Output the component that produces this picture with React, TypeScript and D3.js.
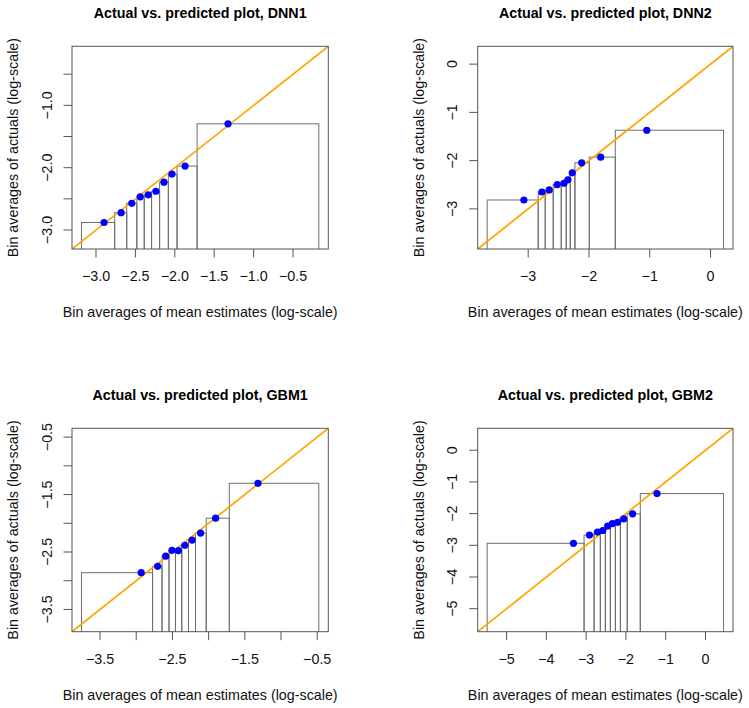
import React, { useRef, useEffect } from 'react';
import * as d3 from 'd3';

// bin edges, bin averages of predicted means and of actuals (log-scale)
const dnn1Edges = [-3.184, -2.763, -2.610, -2.482, -2.388, -2.295, -2.193, -2.082, -1.972, -1.717, -0.173];
const dnn1Pred = [-2.898, -2.681, -2.546, -2.439, -2.337, -2.240, -2.138, -2.036, -1.870, -1.325];
const dnn1Actual = [-2.879, -2.722, -2.572, -2.468, -2.436, -2.378, -2.233, -2.103, -1.974, -1.296];

const dnn2Edges = [-3.675, -2.835, -2.720, -2.588, -2.456, -2.374, -2.308, -2.231, -1.995, -1.567, 0.214];
const dnn2Pred = [-3.071, -2.774, -2.654, -2.522, -2.412, -2.346, -2.275, -2.120, -1.807, -1.049];
const dnn2Actual = [-2.815, -2.649, -2.607, -2.496, -2.469, -2.398, -2.252, -2.044, -1.927, -1.370];

const gbm1Edges = [-3.756, -2.774, -2.644, -2.547, -2.458, -2.371, -2.278, -2.181, -2.033, -1.714, -0.478];
const gbm1Pred = [-2.931, -2.704, -2.593, -2.506, -2.417, -2.329, -2.228, -2.111, -1.903, -1.319];
const gbm1Actual = [-2.860, -2.750, -2.572, -2.470, -2.475, -2.383, -2.292, -2.170, -1.911, -1.304];

const gbm2Edges = [-5.488, -3.052, -2.800, -2.643, -2.517, -2.391, -2.265, -2.139, -1.967, -1.639, 0.454];
const gbm2Pred = [-3.319, -2.916, -2.714, -2.580, -2.459, -2.340, -2.209, -2.055, -1.831, -1.218];
const gbm2Actual = [-2.937, -2.678, -2.581, -2.533, -2.391, -2.315, -2.274, -2.164, -2.006, -1.368];

// axis ticks, and the ones that get a label
const dnn1Ticks = [-3.0, -2.5, -2.0, -1.5, -1.0, -0.5];
const dnn1YLabels = [-1.0, -2.0, -3.0];
const dnn2Ticks = [-3, -2, -1, 0];
const gbm1Ticks = [-3.5, -3.0, -2.5, -2.0, -1.5, -1.0, -0.5];
const gbm1Labels = [-3.5, -2.5, -1.5, -0.5];
const gbm2Ticks = [-5, -4, -3, -2, -1, 0];

const panels = [
  { title: 'Actual vs. predicted plot, DNN1', edges: dnn1Edges, pred: dnn1Pred, actual: dnn1Actual,
    xTicks: dnn1Ticks, xLabels: dnn1Ticks, yTicks: dnn1Ticks, yLabels: dnn1YLabels, digits: 1 },
  { title: 'Actual vs. predicted plot, DNN2', edges: dnn2Edges, pred: dnn2Pred, actual: dnn2Actual,
    xTicks: dnn2Ticks, xLabels: dnn2Ticks, yTicks: dnn2Ticks, yLabels: dnn2Ticks, digits: 0 },
  { title: 'Actual vs. predicted plot, GBM1', edges: gbm1Edges, pred: gbm1Pred, actual: gbm1Actual,
    xTicks: gbm1Ticks, xLabels: gbm1Labels, yTicks: gbm1Ticks, yLabels: gbm1Labels, digits: 1 },
  { title: 'Actual vs. predicted plot, GBM2', edges: gbm2Edges, pred: gbm2Pred, actual: gbm2Actual,
    xTicks: gbm2Ticks, xLabels: gbm2Ticks, yTicks: gbm2Ticks, yLabels: gbm2Ticks, digits: 0 },
];

const W = 749;
const H = 708;
const FONT = '"Liberation Sans", Arial, sans-serif';
const FS = '14.3px';

const ActualVsPredicted = () => {
  const svgRef = useRef<SVGSVGElement>(null);

  useEffect(() => {
    const svg = d3.select(svgRef.current).html('');
    svg.append('rect').attr('width', W).attr('height', H).attr('fill', 'white');

    // plot boxes for the 2x2 layout
    const boxes = [
      { x0: 72, x1: 328.3, y0: 46.3, y1: 249 },
      { x0: 477.7, x1: 733, y0: 46.3, y1: 249 },
      { x0: 72, x1: 328.3, y0: 428.3, y1: 631.7 },
      { x0: 477.7, x1: 733, y0: 428.3, y1: 631.7 },
    ];

    panels.forEach((p, k) => {
      const b = boxes[k];
      const lo = p.edges[0];
      const hi = p.edges[p.edges.length - 1];
      const pad = (hi - lo) * 0.04;

      const x = d3.scaleLinear().domain([lo - pad, hi + pad]).range([b.x0, b.x1]);
      const y = d3.scaleLinear().domain([lo - pad, hi + pad]).range([b.y1, b.y0]);
      const fmt = d3.format(`.${p.digits}f`);

      const g = svg.append('g');
      const clipId = `clip${k}`;
      g.append('clipPath').attr('id', clipId)
        .append('rect')
        .attr('x', b.x0).attr('y', b.y0)
        .attr('width', b.x1 - b.x0).attr('height', b.y1 - b.y0);

      const plot = g.append('g').attr('clip-path', `url(#${clipId})`);

      // one bar per bin, from the bottom up to the bin's average actual
      plot.selectAll('rect.bin')
        .data(p.actual)
        .enter().append('rect')
        .attr('class', 'bin')
        .attr('x', (_, i) => x(p.edges[i]))
        .attr('width', (_, i) => x(p.edges[i + 1]) - x(p.edges[i]))
        .attr('y', d => y(d))
        .attr('height', d => b.y1 + 5 - y(d))
        .attr('fill', 'none')
        .attr('stroke', '#6e6e6e')
        .attr('stroke-width', 1);

      // identity line
      plot.append('line')
        .attr('x1', x(lo - pad)).attr('y1', y(lo - pad))
        .attr('x2', x(hi + pad)).attr('y2', y(hi + pad))
        .attr('stroke', 'orange')
        .attr('stroke-width', 1.7);

      plot.selectAll('circle')
        .data(p.pred)
        .enter().append('circle')
        .attr('cx', d => x(d))
        .attr('cy', (_, i) => y(p.actual[i]))
        .attr('r', 3.6)
        .attr('fill', '#0000ff');

      g.append('rect')
        .attr('x', b.x0).attr('y', b.y0)
        .attr('width', b.x1 - b.x0).attr('height', b.y1 - b.y0)
        .attr('fill', 'none')
        .attr('stroke', '#555')
        .attr('stroke-width', 1);

      // x axis
      g.selectAll('line.xt')
        .data(p.xTicks)
        .enter().append('line')
        .attr('x1', d => x(d)).attr('x2', d => x(d))
        .attr('y1', b.y1).attr('y2', b.y1 + 8.5)
        .attr('stroke', '#555');

      g.selectAll('text.xl')
        .data(p.xLabels)
        .enter().append('text')
        .attr('x', d => x(d))
        .attr('y', b.y1 + 32)
        .attr('text-anchor', 'middle')
        .attr('font-family', FONT)
        .attr('font-size', FS)
        .attr('fill', '#111')
        .text(d => fmt(d));

      // y axis, labels run along the axis
      g.selectAll('line.yt')
        .data(p.yTicks)
        .enter().append('line')
        .attr('x1', b.x0 - 8.5).attr('x2', b.x0)
        .attr('y1', d => y(d)).attr('y2', d => y(d))
        .attr('stroke', '#555');

      g.selectAll('text.yl')
        .data(p.yLabels)
        .enter().append('text')
        .attr('transform', d => `translate(${b.x0 - 20.3},${y(d)}) rotate(-90)`)
        .attr('text-anchor', 'middle')
        .attr('font-family', FONT)
        .attr('font-size', FS)
        .attr('fill', '#111')
        .text(d => fmt(d));

      g.append('text')
        .attr('x', (b.x0 + b.x1) / 2)
        .attr('y', b.y0 - 28)
        .attr('text-anchor', 'middle')
        .attr('font-family', FONT)
        .attr('font-size', FS)
        .attr('font-weight', 'bold')
        .attr('fill', '#000')
        .text(p.title);

      g.append('text')
        .attr('x', (b.x0 + b.x1) / 2)
        .attr('y', b.y1 + 68.3)
        .attr('text-anchor', 'middle')
        .attr('font-family', FONT)
        .attr('font-size', FS)
        .attr('fill', '#111')
        .text('Bin averages of mean estimates (log-scale)');

      g.append('text')
        .attr('transform', `translate(${b.x0 - 54},${(b.y0 + b.y1) / 2}) rotate(-90)`)
        .attr('text-anchor', 'middle')
        .attr('font-family', FONT)
        .attr('font-size', FS)
        .attr('fill', '#111')
        .text('Bin averages of actuals (log-scale)');
    });
  }, []);

  return <svg ref={svgRef} width={W} height={H} style={{ display: 'block' }}></svg>;
};

export default function App() {
  return (
    <div style={{ position: 'absolute', left: 0, top: 0 }}>
      <ActualVsPredicted />
    </div>
  );
}
